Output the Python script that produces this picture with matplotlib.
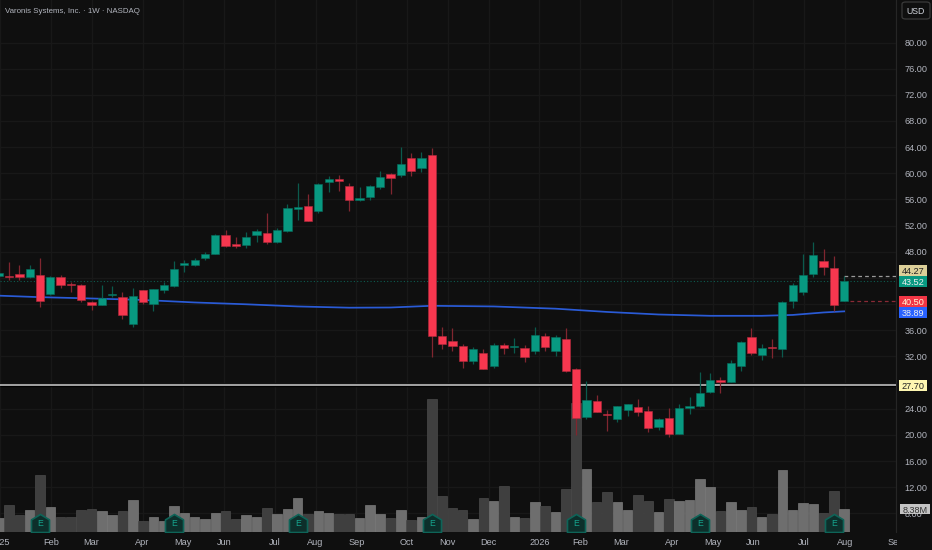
import numpy as np
import matplotlib
matplotlib.use('Agg')
import matplotlib.pyplot as plt
from matplotlib.path import Path
from matplotlib.patches import Rectangle, FancyBboxPatch
from matplotlib.transforms import Bbox

W, H = 932, 550
plt.rcParams['font.family'] = ['Liberation Sans', 'DejaVu Sans']

first_week = -4
opens = [44.30,44.30,44.56,44.10,44.50,41.59,44.19,43.12,42.97,40.28,39.91,41.39,41.09,37.01,42.11,40.07,42.11,42.72,46.03,45.94,47.01,47.71,50.57,49.19,48.99,50.52,50.92,49.45,51.23,54.54,55.00,54.28,58.63,59.13,58.11,55.92,56.38,57.95,59.85,59.74,62.34,60.86,62.75,35.13,34.36,33.60,31.30,32.48,30.50,33.75,33.44,33.34,32.79,35.08,32.88,34.67,30.08,22.74,25.23,23.20,22.48,23.86,24.27,23.66,21.26,22.54,20.19,24.07,24.47,26.52,28.35,28.09,30.50,34.97,32.27,33.44,33.18,40.43,41.81,44.61,46.59,45.52,40.50]
highs = [44.91,46.49,45.98,45.98,47.01,44.30,44.50,43.43,43.03,40.48,42.92,42.77,41.90,42.42,42.16,42.31,43.43,46.59,46.75,47.01,48.02,50.72,51.33,50.31,50.98,51.44,53.89,51.59,55.31,58.47,56.84,58.57,59.64,59.74,58.47,57.91,58.21,60.31,60.05,63.98,63.15,63.21,63.87,36.50,36.30,33.90,33.40,33.09,34.06,34.01,34.82,33.70,36.50,35.63,35.23,36.35,30.23,28.25,26.06,23.81,24.47,24.73,25.49,24.42,22.54,24.07,24.73,25.75,29.62,29.42,28.90,31.46,34.36,36.30,33.86,34.62,40.48,43.18,47.66,49.50,48.43,47.36,44.27]
lows = [44.15,43.69,43.69,43.95,39.61,41.39,42.51,41.81,40.37,39.10,39.87,41.13,37.77,36.50,40.07,38.90,41.75,42.66,44.96,45.87,46.75,47.66,48.73,48.63,48.53,49.45,49.24,49.39,51.07,52.86,52.66,53.98,57.14,57.34,54.28,55.81,55.97,57.56,56.84,59.48,59.59,60.25,31.96,33.09,32.79,30.28,30.80,30.00,30.28,32.37,32.53,31.20,32.33,32.79,32.07,29.67,20.03,22.39,23.50,20.55,22.02,22.94,22.94,20.45,20.75,19.68,20.14,23.25,24.32,26.46,26.46,28.05,29.82,32.27,31.50,31.76,31.96,39.41,41.44,44.19,44.41,38.95,40.50]
closes = [44.76,44.15,44.19,45.37,40.52,44.10,42.92,42.97,40.63,39.87,40.98,41.59,38.34,41.29,40.37,42.31,42.97,45.32,46.33,46.79,47.71,50.61,48.89,48.89,50.31,51.13,49.54,51.29,54.70,54.80,52.75,58.41,59.13,58.87,55.97,56.23,58.01,59.48,59.24,61.42,60.35,62.34,35.13,33.95,33.60,31.30,33.09,30.08,33.75,33.29,33.60,31.91,35.28,33.40,34.97,29.73,22.59,25.34,23.55,23.05,24.38,24.68,23.55,21.06,22.43,20.10,24.16,24.42,26.46,28.44,28.09,30.95,34.16,32.57,33.29,33.29,40.28,42.92,44.50,47.51,45.68,39.91,43.52]
volumes_m = [5.10,9.83,6.30,8.12,20.64,9.10,5.35,5.57,7.90,8.37,7.53,6.30,7.64,11.76,3.89,5.57,4.11,9.57,7.03,5.57,4.62,7.03,7.53,4.84,6.30,5.57,8.63,6.55,8.37,12.27,6.55,7.75,7.03,6.44,6.44,5.10,9.83,6.44,4.99,7.90,4.26,5.57,48.52,13.10,8.63,8.12,4.84,12.27,11.28,16.63,5.35,4.99,11.03,9.57,7.39,15.76,46.96,22.93,10.81,14.56,10.92,7.90,13.58,11.28,7.17,12.12,11.28,11.54,19.40,16.49,7.64,11.03,8.12,9.10,5.46,6.44,22.68,7.90,10.56,10.30,6.92,14.81,8.38]

ma_weeks = [-4,0,5,10,15,20,25,30,34,38,44,50,55,60,65,70,73,76,78]
ma_values = [41.29,41.06,40.86,40.63,40.25,39.97,39.64,39.45,39.48,39.74,39.64,39.30,38.80,38.41,38.21,38.21,38.34,38.72,38.89]

earnings_weeks = [0,13,25,38,52,64,77]

month_weeks = [-5,0,4,9,13,17,22,26,30,35,39,43,48,52,56,61,65,69,74,78,83]
month_labels = ['2025','Feb','Mar','Apr','May','Jun','Jul','Aug','Sep','Oct','Nov','Dec','2026','Feb','Mar','Apr','May','Jun','Jul','Aug','Sep']
price_ticks = np.arange(8, 84, 4)
hidden_prices = [28, 40, 44]

support = 27.70
last_high, last_close, last_open = 44.27, 43.52, 40.50

BG = '#0f0f0f'
GRID = '#181818'
UP, DOWN = '#089981', '#f7374f'
UP_WICK, DOWN_WICK = '#0b5a4d', '#80262f'
UP_VOL, DOWN_VOL = '#6e6e6e', '#3f3f3f'
TXT = '#b2b5be'

fig = plt.figure(figsize=(W/100, H/100), dpi=100, facecolor=BG)
rect = [0, (H-532)/H, 896/W, 532/H]

grid_ax = fig.add_axes(rect, facecolor=BG)
vol = fig.add_axes(rect, facecolor='none')
ax = fig.add_axes(rect, facecolor='none')

xlim = (-40/10.31, 856/10.31)
ylim = (5.15, 86.50)
for a in (grid_ax, vol, ax):
    a.set_xlim(xlim)
    for s in a.spines.values():
        s.set_visible(False)
grid_ax.set_ylim(ylim)
ax.set_ylim(ylim)
vol.set_ylim(0, 193.7)
vol.axis('off')
ax.axis('off')

# grid and axis labels live on the bottom axes
grid_ax.set_xticks(month_weeks)
grid_ax.set_xticklabels(month_labels)
grid_ax.yaxis.tick_right()
grid_ax.set_yticks(price_ticks)
grid_ax.set_yticklabels(['' if p in hidden_prices else '%.2f' % p for p in price_ticks])
grid_ax.grid(True, color=GRID, lw=0.9)
grid_ax.set_axisbelow(True)
grid_ax.tick_params(axis='x', length=0, pad=4, labelsize=6.6, labelcolor=TXT)
grid_ax.tick_params(axis='y', length=0, pad=6, labelsize=6.6, labelcolor=TXT)
grid_ax.spines['right'].set_visible(True)
grid_ax.spines['right'].set_color('#262626')
for lbl in grid_ax.get_xticklabels():
    lbl.set_clip_box(Bbox([[0, 0], [897, H]]))
    lbl.set_clip_on(True)

weeks = np.arange(first_week, first_week + len(closes))
is_up = np.array(closes) >= np.array(opens)

vol.bar(weeks, volumes_m, width=0.92, color=[UP_VOL if u else DOWN_VOL for u in is_up],
        edgecolor=['#7a7a7a' if u else '#4a4a4a' for u in is_up], lw=0.5)

# earnings badges, house shaped
house = Path([(-1, -1), (-1, 0.4), (0, 1), (1, 0.4), (1, -1), (-1, -1)], closed=True)
badge_y = 0.0167
vol.plot(earnings_weeks, [badge_y]*len(earnings_weeks), ls='none', marker=house, ms=13,
         mfc='#0d2f2b', mec='#0e6458', mew=1.2, transform=vol.get_xaxis_transform(), zorder=5)
for wk in earnings_weeks:
    vol.text(wk, badge_y - 0.001, 'E', color='#16a58f', fontsize=6.2, ha='center', va='center',
             transform=vol.get_xaxis_transform(), zorder=6)

ax.hlines(support, xlim[0], xlim[1], color='black', lw=2.4, zorder=1)
ax.hlines(support, xlim[0], xlim[1], color='#d0d0d0', lw=1.1, zorder=1.1)
ax.plot(ma_weeks, ma_values, color='#2a5bd7', lw=1.25, zorder=1.5)
ax.hlines(last_close, xlim[0], xlim[1], color='#0d5c4f', lw=0.8, linestyles=(0, (1, 2)), zorder=1.2)
ax.hlines(last_high, weeks[-1], xlim[1], color='#9a9a9a', lw=0.9, linestyles=(0, (3, 2.5)), zorder=1.2)
ax.hlines(last_open, weeks[-1] + 0.6, xlim[1], color='#8a2a36', lw=0.9, linestyles=(0, (3, 2.5)), zorder=1.2)

ax.vlines(weeks, lows, highs, colors=[UP_WICK if u else DOWN_WICK for u in is_up], lw=0.9, zorder=2)
bottoms = np.minimum(opens, closes)
heights = np.abs(np.array(closes) - np.array(opens))
ax.bar(weeks, heights, bottom=bottoms, width=0.8, color=[UP if u else DOWN for u in is_up],
       edgecolor=['#076e5e' if u else '#b32a3c' for u in is_up], lw=0.4, zorder=3)

def px_box(x0, y0, x1, y1, face, text, tcolor):
    fig.add_artist(Rectangle((x0/W, 1-y1/H), (x1-x0)/W, (y1-y0)/H, transform=fig.transFigure,
                             facecolor=face, edgecolor='none', zorder=10))
    fig.text((x0+x1)/2/W, 1-(y0+y1)/2/H, text, color=tcolor, fontsize=6.6, ha='center', va='center_baseline', zorder=11)

px_box(899, 265, 927, 275.7, '#dccf98', '%.2f' % last_high, '#222222')
px_box(899, 276.3, 927, 286.7, UP, '%.2f' % last_close, '#eeeeee')
px_box(899, 296, 927, 306.7, '#f23645', '%.2f' % last_open, '#fff6d8')
px_box(899, 307.3, 927, 317.7, '#2962ff', '%.2f' % ma_values[-1], '#eeeeee')
px_box(899, 380, 927, 391, '#fdf6b0', '%.2f' % support, '#222222')
px_box(900, 504, 930, 514.3, '#c4c4c4', '%.2fM' % volumes_m[-1], '#333333')

fig.add_artist(FancyBboxPatch((902/W, 1-19/H), 28/W, 17/H, boxstyle='round,pad=0,rounding_size=0.004',
                              transform=fig.transFigure, facecolor=BG, edgecolor='#3a3a3a', lw=0.9, zorder=10))
fig.text(916/W, 1-11/H, 'USD', color='#d1d4dc', fontsize=6.3, ha='center', va='center', zorder=11)
fig.text(5/W, 1-11.5/H, 'Varonis Systems, Inc. · 1W · NASDAQ', color=TXT, fontsize=5.7, ha='left', va='center', zorder=11)

fig.savefig('out.png', dpi=100, facecolor=BG)
